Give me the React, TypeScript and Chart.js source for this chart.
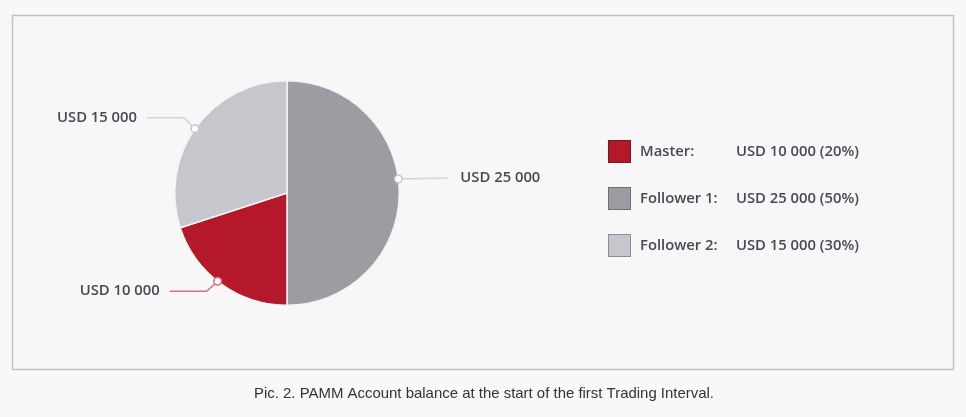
import React, { useEffect, useRef } from "react";
import { Chart, registerables } from "chart.js";

Chart.register(...registerables);

// Pie order (clockwise from top)
const sliceNames = ["Follower 1", "Master", "Follower 2"];
const sliceValues = [25000, 10000, 15000];
const sliceLabels = ["USD 25 000", "USD 10 000", "USD 15 000"];
const sliceColors = ["#9c9da3", "#b5182b", "#c6c7cc"];
const calloutColors = ["#d4d4d6", "#d8707e", "#d4d4d6"];
const calloutFractions = [0.46, 0.53, 0.49];

// Legend order
const legendNames = ["Master:", "Follower 1:", "Follower 2:"];
const legendValues = ["USD 10 000 (20%)", "USD 25 000 (50%)", "USD 15 000 (30%)"];
const legendColors = ["#b5182b", "#9c9da3", "#c6c7cc"];
const legendBorders = ["#7a1620", "#6e6f75", "#8d8e93"];

const caption = "Pic. 2. PAMM Account balance at the start of the first Trading Interval.";

export default function App() {
  const ref = useRef<HTMLCanvasElement | null>(null);

  useEffect(() => {
    document.body.style.margin = "0";
    const canvas = ref.current!;
    const framePlugin = {
      id: "frame",
      beforeDraw(chart: any) {
        const ctx = chart.ctx;
        ctx.save();
        ctx.fillStyle = "#f8f8f8";
        ctx.fillRect(0, 0, chart.width, chart.height);
        ctx.fillStyle = "#f7f7f7";
        ctx.fillRect(13, 16, 940, 353);
        ctx.strokeStyle = "#c2c2c4";
        ctx.lineWidth = 1.5;
        ctx.strokeRect(12.5, 15.5, 941, 354);
        ctx.restore();
      },
      afterDraw(chart: any) {
        const ctx = chart.ctx;
        const meta = chart.getDatasetMeta(0);
        ctx.save();
        ctx.font = "600 14.8px 'Open Sans'";
        ctx.textBaseline = "middle";
        meta.data.forEach((arc: any, i: number) => {
          const a = arc.startAngle + (arc.endAngle - arc.startAngle) * calloutFractions[i];
          const r = arc.outerRadius;
          const px = arc.x + Math.cos(a) * r;
          const py = arc.y + Math.sin(a) * r;
          const right = Math.cos(a) > 0.3;
          const up = Math.sin(a) < 0;
          ctx.strokeStyle = calloutColors[i];
          ctx.lineWidth = 1.5;
          ctx.beginPath();
          ctx.moveTo(px, py);
          let tx: number, ty: number;
          if (right) {
            ctx.lineTo(px + 49, py - 1);
            tx = px + 62;
            ty = py - 1;
            ctx.textAlign = "left";
          } else {
            const ey = up ? py - 11 : py + 10;
            ctx.lineTo(px - 11, ey);
            ctx.lineTo(px - 48, ey);
            tx = px - 58;
            ty = ey;
            ctx.textAlign = "right";
          }
          ctx.stroke();
          ctx.beginPath();
          ctx.arc(px, py, 3.8, 0, Math.PI * 2);
          ctx.fillStyle = "#ffffff";
          ctx.fill();
          ctx.strokeStyle = i === 1 ? "#d8707e" : "#c8c8cc";
          ctx.lineWidth = 1.5;
          ctx.stroke();
          ctx.fillStyle = "#474955";
          ctx.fillText(sliceLabels[i], tx, ty);
        });

        // legend
        ctx.textAlign = "left";
        legendNames.forEach((n, i) => {
          const y = 140 + i * 47;
          ctx.fillStyle = legendColors[i];
          ctx.fillRect(608, y, 23, 23);
          ctx.strokeStyle = legendBorders[i];
          ctx.lineWidth = 1;
          ctx.strokeRect(608.5, y + 0.5, 22, 22);
          ctx.fillStyle = "#474955";
          ctx.fillText(n, 640, y + 11.5);
          ctx.fillText(legendValues[i], 736, y + 11.5);
        });

        // caption
        ctx.font = "15px 'Liberation Sans Narrow', 'Liberation Sans'";
        ctx.fillStyle = "#333333";
        const w = ctx.measureText(caption).width;
        const target = 460;
        ctx.translate(484, 394);
        ctx.scale(target / w, 1);
        ctx.textAlign = "center";
        ctx.fillText(caption, 0, 0);
        ctx.restore();
      },
    };

    const chart = new Chart(canvas, {
      type: "pie",
      data: {
        labels: sliceNames,
        datasets: [
          {
            data: sliceValues,
            backgroundColor: sliceColors,
            borderColor: "#f4f4f6",
            borderWidth: 1.5,
          },
        ],
      },
      options: {
        responsive: false,
        animation: false,
        layout: { padding: { left: 174, right: 566, top: 80, bottom: 111 } },
        plugins: { legend: { display: false }, tooltip: { enabled: false } },
      },
      plugins: [framePlugin],
    });
    return () => chart.destroy();
  }, []);

  return <canvas ref={ref} width={966} height={417} style={{ display: "block" }} />;
}
